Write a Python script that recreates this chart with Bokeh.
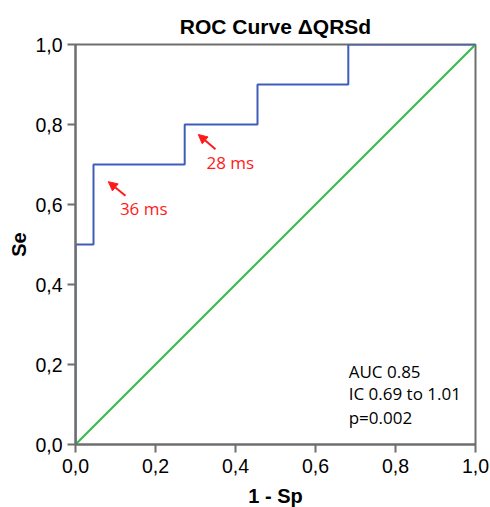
from bokeh.plotting import figure
from bokeh.models import Range1d, Label, Arrow, NormalHead, FixedTicker
from bokeh.embed import file_html
from bokeh.resources import INLINE

# ---- data ----
fpr = [0.0, 0.0, 0.045, 0.045, 0.273, 0.273, 0.455, 0.455, 0.682, 0.682, 1.0]
tpr = [0.0, 0.5, 0.5, 0.7, 0.7, 0.8, 0.8, 0.9, 0.9, 1.0, 1.0]
ref_x = [0.0, 1.0]
ref_y = [0.0, 1.0]
tick_values = [0.0, 0.2, 0.4, 0.6, 0.8, 1.0]
tick_labels = ["0,0", "0,2", "0,4", "0,6", "0,8", "1,0"]
stats_lines = ["AUC 0.85", "IC 0.69 to 1.01", "p=0.002"]
cutoff_labels = ["36 ms", "28 ms"]
title_text = "ROC Curve ΔQRSd"
x_label = "1 - Sp"
y_label = "Se"

AX = "#6e6e6e"
BLUE = "#3f5db8"
GREEN = "#34bb46"
RED = "#ff1a1a"

p = figure(frame_width=400, frame_height=400, x_range=Range1d(0, 1), y_range=Range1d(0, 1),
           output_backend="svg", toolbar_location=None, title=title_text,
           min_border_left=75, min_border_right=14, min_border_top=44,
           min_border_bottom=10)
p.background_fill_color = "white"
p.border_fill_color = "white"
p.title.align = "center"
p.title.text_font = "Liberation Sans"
p.title.text_font_size = "21px"
p.title.text_font_style = "bold"
p.title.text_color = "black"
p.title.standoff = 14

p.xgrid.visible = False
p.ygrid.visible = False
p.outline_line_color = AX
p.outline_line_width = 2
p.outline_line_alpha = 1.0

overrides = {v: l for v, l in zip(tick_values, tick_labels)}
for ax in (p.xaxis[0], p.yaxis[0]):
    ax.ticker = FixedTicker(ticks=tick_values)
    ax.major_label_overrides = overrides
    ax.axis_line_color = AX
    ax.axis_line_width = 2
    ax.major_tick_line_color = AX
    ax.major_tick_line_width = 2
    ax.major_tick_out = 8
    ax.major_tick_in = 0
    ax.minor_tick_line_color = None
    ax.major_label_text_font = "Liberation Sans"
    ax.major_label_text_font_size = "19.5px"
    ax.major_label_text_color = "black"
    ax.axis_label_text_font = "Liberation Sans"
    ax.axis_label_text_font_size = "20px"
    ax.axis_label_text_font_style = "bold"
    ax.axis_label_text_color = "black"
p.xaxis.axis_label = x_label
p.yaxis.axis_label = y_label
p.xaxis.major_label_standoff = 6
p.xaxis.axis_label_standoff = 9
p.yaxis.axis_label_standoff = 2

p.line(ref_x, ref_y, line_color=GREEN, line_width=2)
p.line(fpr, tpr, line_color=BLUE, line_width=2)

# cutoff annotations
p.add_layout(Arrow(end=NormalHead(size=9, fill_color=RED, line_color=RED),
                   x_start=0.125, y_start=0.622, x_end=0.082, y_end=0.657,
                   line_color=RED, line_width=2))
p.add_layout(Arrow(end=NormalHead(size=9, fill_color=RED, line_color=RED),
                   x_start=0.35, y_start=0.738, x_end=0.307, y_end=0.775,
                   line_color=RED, line_width=2))
p.add_layout(Label(x=0.111, y=0.589, text=cutoff_labels[0], text_font="Open Sans",
                   text_font_size="17px", text_color=RED, text_baseline="middle"))
p.add_layout(Label(x=0.3275, y=0.705, text=cutoff_labels[1], text_font="Open Sans",
                   text_font_size="17px", text_color=RED, text_baseline="middle"))

for yy, t in zip([0.182, 0.127, 0.067], stats_lines):
    p.add_layout(Label(x=0.683, y=yy, text=t, text_font="Open Sans",
                       text_font_size="17px", text_color="black",
                       text_baseline="middle"))

open("out.html", "w").write(file_html(p, INLINE))
